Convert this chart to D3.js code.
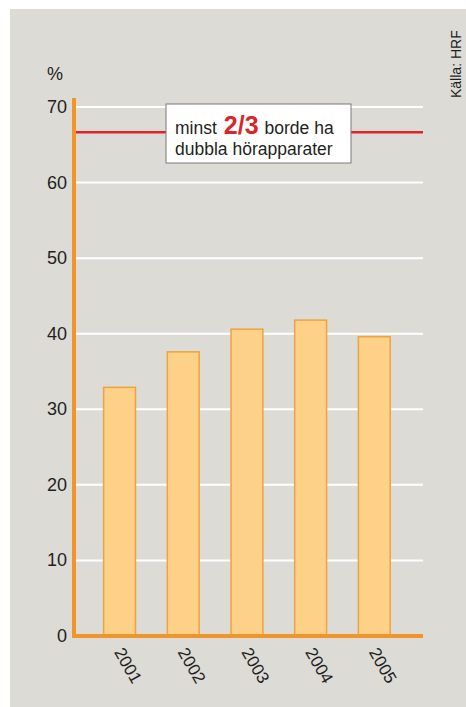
<!DOCTYPE html>
<html>
<head>
<meta charset="utf-8">
<script src="https://cdn.jsdelivr.net/npm/d3@7"></script>
<style>
  body { margin: 0; background: #fff; }
  text { font-family: "Liberation Sans", Arial, sans-serif; fill: #231f20; }
</style>
</head>
<body>
<div id="chart"></div>
<script>
// data
const years = ["2001", "2002", "2003", "2004", "2005"]
const values = [32.9, 37.6, 40.6, 41.8, 39.6]
const yTicks = [0, 10, 20, 30, 40, 50, 60, 70]
const target = 200 / 3
const noteLine1 = ["minst", "2/3", "borde ha"]
const noteLine2 = "dubbla hörapparater"
const source = "Källa: HRF"

const W = 466, H = 707
const svg = d3.select("#chart").append("svg")
  .attr("width", W).attr("height", H)

// background panel
svg.append("rect")
  .attr("x", 10).attr("y", 9)
  .attr("width", W - 10).attr("height", H - 9)
  .attr("fill", "#dcdbd6")

const plotLeft = 74, plotRight = 423, plotBottom = 636, plotTop = 107

const y = d3.scaleLinear().domain([0, 70]).range([plotBottom, plotTop])
const x = d3.scaleBand().domain(years).range([plotLeft, plotRight])
  .paddingInner(0.5).paddingOuter(0.49).align(0.475)

// white grid lines
svg.append("g")
  .selectAll("line")
  .data(yTicks.filter(d => d > 0))
  .join("line")
  .attr("x1", plotLeft + 2).attr("x2", plotRight)
  .attr("y1", d => y(d)).attr("y2", d => y(d))
  .attr("stroke", "#ffffff").attr("stroke-width", 2)

// y tick labels
svg.append("g")
  .selectAll("text")
  .data(yTicks)
  .join("text")
  .attr("x", 67)
  .attr("y", d => y(d) + 6)
  .attr("text-anchor", "end")
  .attr("font-size", 18)
  .text(d => d)

svg.append("text")
  .attr("x", 47).attr("y", 80)
  .attr("font-size", 18)
  .text("%")

// target line
svg.append("line")
  .attr("x1", plotLeft + 2).attr("x2", plotRight)
  .attr("y1", y(target)).attr("y2", y(target))
  .attr("stroke", "#d9262b").attr("stroke-width", 2.5)

// bars
svg.append("g")
  .selectAll("rect")
  .data(values)
  .join("rect")
  .attr("x", (d, i) => x(years[i]))
  .attr("y", d => y(d))
  .attr("width", x.bandwidth())
  .attr("height", d => plotBottom - y(d))
  .attr("fill", "#fdd188")
  .attr("stroke", "#f0a23e")
  .attr("stroke-width", 1.5)

// axes
svg.append("line")
  .attr("x1", plotLeft).attr("x2", plotLeft)
  .attr("y1", 98).attr("y2", plotBottom + 2)
  .attr("stroke", "#f0952a").attr("stroke-width", 4)
svg.append("line")
  .attr("x1", plotLeft - 2).attr("x2", plotRight)
  .attr("y1", plotBottom).attr("y2", plotBottom)
  .attr("stroke", "#f0952a").attr("stroke-width", 4)

// year labels
svg.append("g")
  .selectAll("text")
  .data(years)
  .join("text")
  .attr("transform", d => `translate(${x(d) + 10},${plotBottom + 16}) rotate(60)`)
  .attr("font-size", 17)
  .text(d => d)

// annotation box
const note = svg.append("g")
note.append("rect")
  .attr("x", 166).attr("y", 104)
  .attr("width", 185).attr("height", 59)
  .attr("fill", "#ffffff")
  .attr("stroke", "#7a7a7a").attr("stroke-width", 1)

const t1 = note.append("text").attr("x", 175).attr("y", 134).attr("font-size", 17.5)
t1.append("tspan").text(noteLine1[0])
t1.append("tspan").text(noteLine1[1]).attr("dx", 7)
  .attr("font-size", 25).attr("font-weight", "bold").style("fill", "#d9262b")
t1.append("tspan").text(noteLine1[2]).attr("dx", 6)
note.append("text").attr("x", 175).attr("y", 155).attr("font-size", 17.5)
  .text(noteLine2)

// source
svg.append("text")
  .attr("transform", "translate(461,98) rotate(-90)")
  .attr("font-size", 14)
  .text(source)
</script>
</body>
</html>
